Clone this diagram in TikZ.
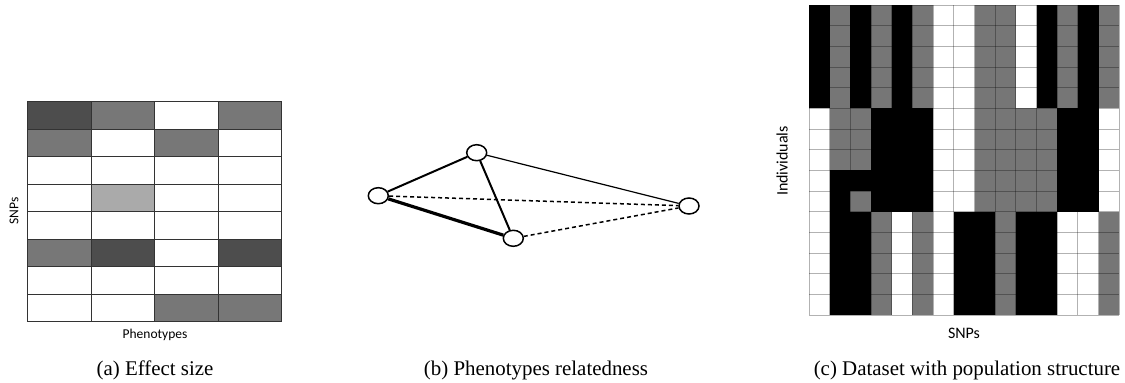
\documentclass[tikz,border=0pt]{standalone}
\usepackage{fontspec}
\setmainfont{Liberation Serif}
\newfontfamily\lblfont{Carlito}
\usepackage{xcolor,tikz}
\usetikzlibrary{positioning,shapes.geometric}
\definecolor{shd}{HTML}{4D4D4D}
\definecolor{shm}{HTML}{777777}
\definecolor{shl}{HTML}{AAAAAA}
\definecolor{shw}{HTML}{FFFFFF}
\definecolor{shk}{HTML}{000000}
\definecolor{shg}{HTML}{767676}
\tikzset{
  pheno/.style={draw,fill=white,ellipse,minimum width=20pt,minimum height=16pt,inner sep=0pt,line width=1.5pt},
  agrid/.style={line width=1.3pt,black!80,line cap=rect},
  cgrid/.style={line width=1pt,draw=black,draw opacity=0.3},
  caption/.style={anchor=base,font=\fontsize{20.9}{24}\selectfont},
  albl/.style={font=\lblfont\fontsize{13.5}{16}\selectfont},
  clbl/.style={font=\lblfont\fontsize{16}{19}\selectfont},
  dashedge/.style={line width=1.5pt,dash pattern=on 4pt off 3pt}
}

\begin{document}
\begin{tikzpicture}[x=1pt,y=-1pt]
\useasboundingbox (0,0) rectangle (1125,383);

% (a) effect size
\foreach \row [count=\j from 0] in {{d,m,w,m},{m,w,m,w},{w,w,w,w},{w,l,w,w},{w,w,w,w},{m,d,w,d},{w,w,w,w},{w,w,m,m}}
  \foreach \c [count=\i from 0] in \row
    \fill[fill=sh\c] (27.7+63.5*\i,101.7+27.5*\j) rectangle ++(63.5,27.5);
\foreach \i in {0,...,4} \draw[agrid] (27.7+63.5*\i,101.7) -- ++(0,220);
\foreach \j in {0,...,8} \draw[agrid] (27.7,101.7+27.5*\j) -- ++(254,0);
\node[albl,rotate=90] (snpa) at (14,211) {SNPs};
\node[albl] (phen) at (155,335) {Phenotypes};
\node[caption] (capa) at (155,375) {(a) Effect size};

% (b) relatedness
\node[pheno] (pa) at (476.7,152.7) {};
\node[pheno] (pb) at (378.3,195.7) {};
\node[pheno] (pc) at (513.3,238.3) {};
\node[pheno] (pd) at (689,206) {};
\draw[line width=2pt] (pa) -- (pb);
\draw[line width=2pt] (pa) -- (pc);
\draw[line width=3.2pt] (pb) -- (pc);
\draw[line width=1.2pt] (pa) -- (pd);
\draw[dashedge] (pb) -- (pd);
\draw[dashedge] (pc) -- (pd);
\node[caption] (capb) at (536,375) {(b) Phenotypes relatedness};

% (c) population structure
\foreach \row [count=\j from 0] in {
  {k,g,k,g,k,g,w,w,g,g,w,k,g,k,g},
  {k,g,k,g,k,g,w,w,g,g,w,k,g,k,g},
  {k,g,k,g,k,g,w,w,g,g,w,k,g,k,g},
  {k,g,k,g,k,g,w,w,g,g,w,k,g,k,g},
  {k,g,k,g,k,g,w,w,g,g,w,k,g,k,g},
  {w,g,g,k,k,k,w,w,g,g,g,g,k,k,w},
  {w,g,g,k,k,k,w,w,g,g,g,g,k,k,w},
  {w,g,g,k,k,k,w,w,g,g,g,g,k,k,w},
  {w,k,k,k,k,k,w,w,g,g,g,g,k,k,w},
  {w,k,g,k,k,k,w,w,g,g,g,g,k,k,w},
  {w,k,k,g,w,g,w,k,k,g,k,k,w,w,g},
  {w,k,k,g,w,g,w,k,k,g,k,k,w,w,g},
  {w,k,k,g,w,g,w,k,k,g,k,k,w,w,g},
  {w,k,k,g,w,g,w,k,k,g,k,k,w,w,g},
  {w,k,k,g,w,g,w,k,k,g,k,k,w,w,g}}
  \foreach \c [count=\i from 0] in \row
    \fill[fill=sh\c] (809+20.69*\i,5+20.67*\j) rectangle ++(20.69,20.67);
\foreach \i in {0,...,15} \draw[cgrid] (809+20.69*\i,5) -- ++(0,310);
\foreach \j in {0,...,15} \draw[cgrid] (809,5+20.67*\j) -- ++(310.3,0);
\node[clbl,rotate=90] (indiv) at (782,161) {Individuals};
\node[clbl] (snpc) at (964,333) {SNPs};
\node[caption] (capc) at (967,375) {(c) Dataset with population structure};
\end{tikzpicture}
\end{document}
